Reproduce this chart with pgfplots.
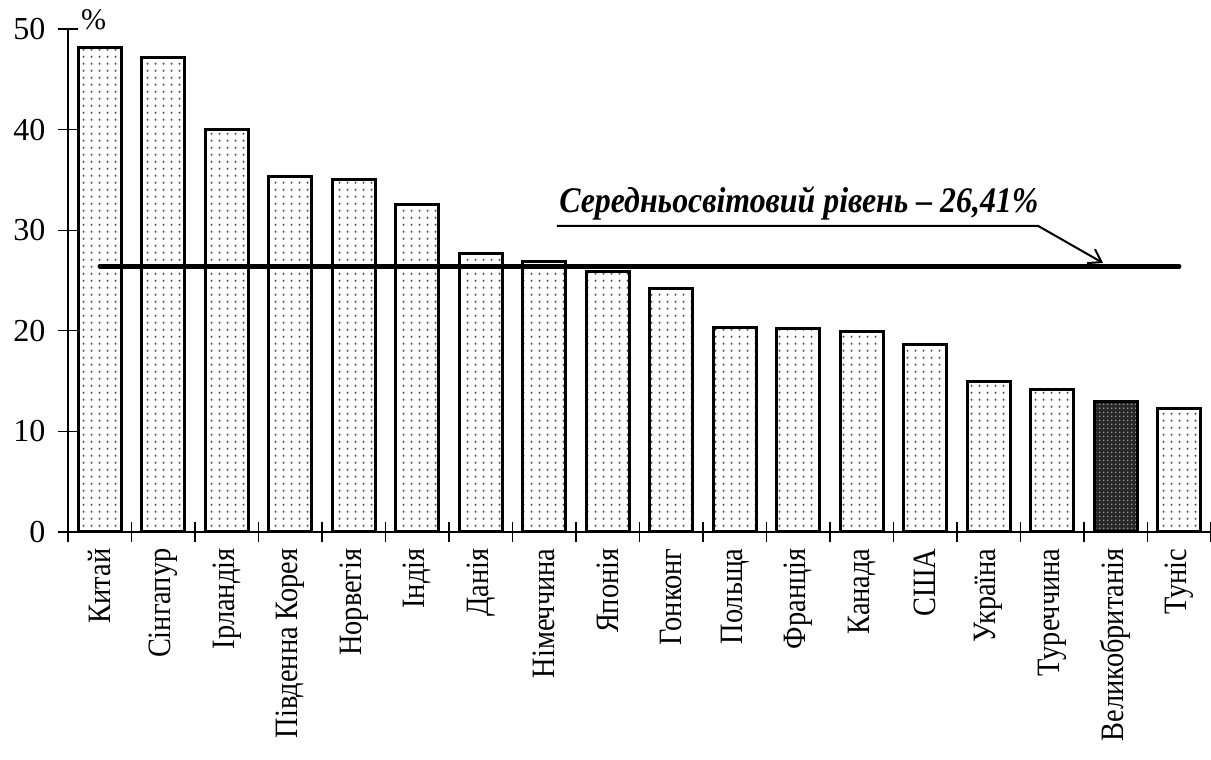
\documentclass[border=0pt]{standalone}
\usepackage{pgfplots}
\pgfplotsset{compat=1.18}
\usepackage{fontspec}
\setmainfont{Liberation Serif}
\newfontfamily\condfont[FakeStretch=0.87]{Liberation Serif}
\newfontfamily\annfont[FakeStretch=0.885]{Liberation Serif}
\usetikzlibrary{patterns,arrows.meta}
\pgfdeclarepatternformonly{mydots}{\pgfpointorigin}{\pgfpoint{4pt}{3.4pt}}{\pgfpoint{4pt}{3.4pt}}{\pgfpathcircle{\pgfpoint{2pt}{1.7pt}}{0.6pt}\pgfusepath{fill}}
\pgfdeclarepatternformonly{densedots}{\pgfpointorigin}{\pgfpoint{1.8pt}{1.8pt}}{\pgfpoint{1.8pt}{1.8pt}}{\pgfpathcircle{\pgfpoint{0.9pt}{0.9pt}}{0.55pt}\pgfusepath{fill}}

\begin{document}
\begin{tikzpicture}
\useasboundingbox (-34pt,-114pt) rectangle (571.5pt,266pt);
\begin{axis}[
  scale only axis, width=571.5pt, height=251.5pt,
  xmin=-0.5, xmax=17.5, ymin=0, ymax=50,
  axis x line=bottom, axis y line=left,
  axis line style={-, line width=0.6pt},
  ytick={0,10,...,50},
  xtick={0,...,17},
  xticklabels={Китай,Сінгапур,Ірландія,Південна Корея,Норвегія,Індія,Данія,Німеччина,Японія,Гонконг,Польща,Франція,Канада,США,Україна,Туреччина,Великобританія,Туніс},
  minor xtick={-0.5,0.5,...,17.5},
  tick align=center, major tick length=9.5pt, minor tick length=9.5pt,
  tick style={black, line width=0.6pt},
  major x tick style={draw=none},
  xticklabel style={rotate=90, anchor=east, font=\condfont\fontsize{16.3}{16.3}\selectfont},
  yticklabel style={font=\fontsize{16}{16}\selectfont, xshift=-3pt},
  /pgf/number format/assume math mode=true,
  clip=false,
]
\addplot[ybar, bar width=0.68, bar shift=0pt, draw=black, line width=1.5pt, pattern=mydots, pattern color=black!70]
coordinates {(0,48.2) (1,47.2) (2,40.0) (3,35.3) (4,35.0) (5,32.6) (6,27.7) (7,26.9) (8,25.9) (9,24.2) (10,20.3) (11,20.2) (12,19.9) (13,18.6) (14,15.0) (15,14.2) (17,12.3)};
\addplot[ybar, bar width=0.68, bar shift=0pt, draw=black, line width=1.5pt, fill=black!85, postaction={pattern=densedots, pattern color=black!45}]
coordinates {(16,13.0)};
\addplot[line width=2.2pt, line cap=round] coordinates {(0,26.41) (17,26.41)};
\node[anchor=west, inner sep=0pt, font=\fontsize{15}{15}\selectfont] at (axis cs:-0.3,50.9) {\%};
\node[font=\annfont\fontsize{18}{18}\selectfont\bfseries\itshape, anchor=base] at (axis cs:11.01,31.8) {Середньосвітовий рівень – 26,41\%};
\draw[line width=1pt, -{Straight Barb[length=6pt,width=8pt]}] (axis cs:7.2,30.42) -- (axis cs:14.78,30.42) -- (axis cs:15.8,26.74);
\end{axis}
\end{tikzpicture}
\end{document}
